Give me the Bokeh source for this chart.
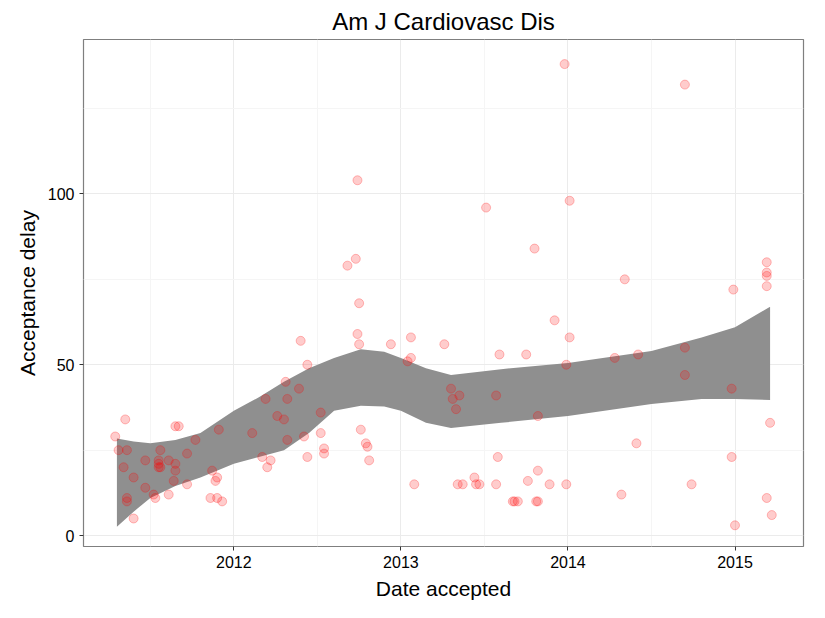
from bokeh.plotting import figure
from bokeh.models import FixedTicker, ColumnDataSource
from bokeh.embed import file_html
from bokeh.resources import INLINE

date_accepted = [2011.29,2011.31,2011.35,2011.34,2011.36,2011.36,2011.36,2011.40,2011.40,2011.47,2011.47,2011.52,2011.53,
 2011.55,2011.55,2011.55,2011.56,2011.56,2011.61,2011.61,2011.65,2011.67,2011.65,2011.65,2011.64,2011.72,2011.72,2011.77,
 2011.86,2011.87,2011.89,2011.90,2011.90,2011.91,2011.93,2012.11,2012.17,2012.19,2012.20,2012.22,2012.26,2012.30,2012.31,
 2012.32,2012.32,2012.39,2012.40,2012.42,2012.44,2012.44,2012.52,2012.52,2012.54,2012.54,2012.68,2012.73,2012.74,2012.75,
 2012.74,2012.75,2012.76,2012.79,2012.80,2012.81,2012.94,2013.04,2013.06,2013.06,2013.08,2013.26,2013.30,2013.31,2013.33,
 2013.34,2013.35,2013.37,2013.44,2013.45,2013.47,2013.51,2013.57,2013.57,2013.58,2013.59,2013.67,2013.68,2013.70,2013.76,
 2013.75,2013.80,2013.81,2013.82,2013.82,2013.82,2013.89,2013.92,2013.99,2013.98,2013.99,2014.01,2014.01,2014.28,2014.32,
 2014.34,2014.41,2014.42,2014.70,2014.70,2014.70,2014.74,2014.98,2014.99,2014.98,2015.00,2015.19,2015.19,2015.19,2015.19,
 2015.19,2015.21,2015.22]
acceptance_delay = [29,25,34,20,25,11,10,17,5,22,14,12,11,22,20,21,25,20,12,22,32,32,19,21,16,15,24,28,11,19,16,17,11,31,10,
 30,23,40,20,22,35,34,45,28,40,43,57,29,50,23,30,36,24,25.5,79,81,104,68,59,56,31,27,26,22,56,51,58,52,15,56,43,40,37,15,41,
 15,17,15,15,96,15,41,23,53,10,10,10,16,53,84,10,10,19,35,15,63,15,138,50,98,58,52,12,75,27,53,132,55,47,15,23,72,43,3,80,77,
 76,73,11,33,6]

band_x = [2011.30,2011.40,2011.50,2011.65,2011.80,2012.00,2012.15,2012.30,2012.45,2012.60,2012.76,2012.90,2013.00,2013.15,
          2013.30,2013.60,2014.00,2014.50,2014.80,2015.00,2015.21]
band_upper = [28.4,27.5,27,28,30,36.5,40.5,45,49,52,54.5,53.8,52,49,47,48.7,50.5,54,58,61,67]
band_lower = [2.6,7,11,14.5,17,21,23,25,30,36.5,38,37.8,36.5,33,31.5,33,35,38.5,40,40,39.7]

x_ticks = [2012, 2013, 2014, 2015]
y_ticks = [0, 50, 100]

p = figure(width=809, height=602, output_backend="svg", toolbar_location=None,
           x_range=(2011.10, 2015.41), y_range=(-3.2, 145.2),
           min_border_left=83, min_border_right=6, min_border_top=35, min_border_bottom=51,
           title="Am J Cardiovasc Dis")
p.title.align = "center"
p.title.text_font = "Liberation Sans"
p.title.text_font_size = "24px"
p.title.text_font_style = "normal"
p.title.text_color = "black"

p.varea(x=band_x, y1=band_lower, y2=band_upper, fill_color="#8f8f8f", fill_alpha=1.0)
src = ColumnDataSource(dict(x=date_accepted, y=acceptance_delay))
p.scatter("x", "y", source=src, size=9, fill_color="red", fill_alpha=0.2, line_color="red", line_alpha=0.25)

p.xaxis.ticker = FixedTicker(ticks=x_ticks, minor_ticks=[2011.5, 2012.5, 2013.5, 2014.5, 2015.5])
p.yaxis.ticker = FixedTicker(ticks=y_ticks, minor_ticks=[25, 75, 125])
p.xaxis.axis_label = "Date accepted"
p.yaxis.axis_label = "Acceptance delay"
for ax in (p.xaxis, p.yaxis):
    ax.axis_label_text_font = "Liberation Sans"
    ax.axis_label_text_font_size = "21px"
    ax.axis_label_text_font_style = "normal"
    ax.axis_label_text_color = "black"
    ax.axis_label_standoff = 6
    ax.major_label_text_font = "Liberation Sans"
    ax.major_label_text_font_size = "16px"
    ax.major_label_text_color = "black"
    ax.axis_line_color = None
    ax.major_tick_line_color = "#333333"
    ax.major_tick_out = 4
    ax.major_tick_in = 0
    ax.minor_tick_line_color = None
p.xgrid.grid_line_color = "#ebebeb"
p.ygrid.grid_line_color = "#ebebeb"
p.xgrid.minor_grid_line_color = "#f5f5f5"
p.ygrid.minor_grid_line_color = "#f5f5f5"
p.outline_line_color = "#7f7f7f"
p.outline_line_width = 1.2

open("out.html", "w").write(file_html(p, INLINE))
